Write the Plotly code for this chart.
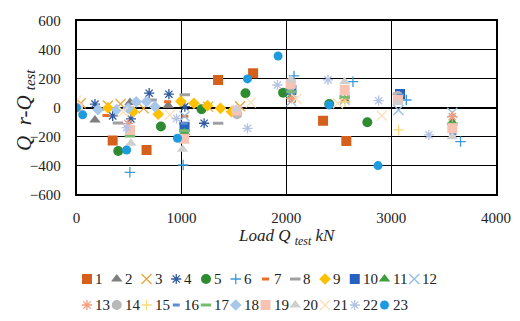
import plotly.graph_objects as go

# ---- data (Load Q_test kN, Q_r - Q_test) ----
s1_x = [345, 668, 1350, 1684, 2351, 2573]
s1_y = [-228, -293, 192, 238, -90, -231]
s2_x = [176, 510, 874]
s2_y = [-85, 35, 15]
s3_x = [40, 300, 420, 640, 1255, 1560]
s3_y = [30, 15, 25, -5, 7, 10]
s4_x = [176, 345, 519, 693, 881, 1033, 1217]
s4_y = [25, -57, -78, 100, 93, 7, -108]
s5_x = [398, 805, 1192, 1611, 1970, 2410, 2773]
s5_y = [-300, -131, -11, 100, 104, 25, -101]
s6_x = [509, 1017, 2074, 2636, 3145, 3662]
s6_y = [-448, -397, 220, 180, 53, -235]
s7_x = [281, 868, 1033, 2060]
s7_y = [-55, 40, -60, 45]
s8_x = [395, 716, 1033, 1350, 1027, 2043, 3065]
s8_y = [-106, 53, 90, -108, -108, 130, 95]
s9_x = [300, 541, 779, 995, 1120, 1249, 1373, 1478]
s9_y = [-2, -28, -45, 44, 30, 14, -5, -28]
s10_x = [1030, 2049, 3085]
s10_y = [-135, 122, 95]
s11_x = [1030, 2049, 2557, 3583]
s11_y = [-170, 75, 55, -100]
s12_x = [1030, 2049, 2557, 3070, 3583]
s12_y = [-60, 45, 55, -16, -35]
s13_x = [490, 2049, 2557, 3583]
s13_y = [-110, 65, 60, -62]
s14_x = [1532, 2043, 3065]
s14_y = [-45, 150, 80]
s15_x = [2560, 3071]
s15_y = [40, -154]
s16_x = [1027, 1525, 2049, 3090, 3590]
s16_y = [-108, -10, 100, 85, -180]
s17_x = [510, 1027, 2049, 2557, 3583]
s17_y = [-196, -160, 110, 72, -113]
s18_x = [205, 383, 493, 570, 668, 748]
s18_y = [-14, -14, -5, 40, 42, 7]
s19_x = [15, 510, 1027, 1525, 2043, 2557, 3065, 3583]
s19_y = [0, -154, -215, -20, 165, 123, 53, -143]
s20_x = [519, 1011, 1525, 2043, 2557, 3065, 3583]
s20_y = [-247, -288, -10, 192, 180, 35, -201]
s21_x = [0, 446, 890, 1662, 2095, 2493, 2912]
s21_y = [50, -28, -50, 35, 62, 30, -55]
s22_x = [478, 954, 1630, 1916, 2398, 2881, 3360]
s22_y = [-138, -75, -143, 157, 192, 48, -189]
s23_x = [0, 59, 478, 963, 1630, 1922, 2408, 2875]
s23_y = [0, -50, -293, -212, 199, 358, 19, -401]

names = [str(i) for i in range(1, 24)]
xs = [s1_x, s2_x, s3_x, s4_x, s5_x, s6_x, s7_x, s8_x, s9_x, s10_x, s11_x, s12_x,
      s13_x, s14_x, s15_x, s16_x, s17_x, s18_x, s19_x, s20_x, s21_x, s22_x, s23_x]
ys = [s1_y, s2_y, s3_y, s4_y, s5_y, s6_y, s7_y, s8_y, s9_y, s10_y, s11_y, s12_y,
      s13_y, s14_y, s15_y, s16_y, s17_y, s18_y, s19_y, s20_y, s21_y, s22_y, s23_y]

# ---- styles ----
colors = ["#D4601B", "#7F7F7F", "#E9A53A", "#2F5A9E", "#2E8B30", "#3A9AD9",
          "#ED6C2A", "#A0A0A0", "#FFC000", "#2762C0", "#3E9E3E", "#92BEE6",
          "#F59B7C", "#B8B8B8", "#FFD97A", "#5D8CD0", "#77BB6F", "#A7C7EB",
          "#F9C3B3", "#CFCFCF", "#FFDDB5", "#B3C3E6", "#1E9BDF"]
symbols = ["square", "triangle-up", "x-thin-open", "asterisk-open", "circle",
           "cross-thin-open", "line-ew-open", "line-ew-open", "diamond", "square",
           "triangle-up", "x-thin-open", "asterisk-open", "circle", "cross-thin-open",
           "line-ew-open", "line-ew-open", "diamond", "square", "triangle-up",
           "x-thin-open", "asterisk-open", "circle"]
sizes = [10, 10, 10, 8.5, 10, 7.5, 5, 7.5, 9, 10, 10, 10, 8.5, 10, 7.5, 5, 7.5, 9, 10,
         10, 10, 8.5, 9]
lws = [0, 0, 1.3, 1.3, 0, 1.3, 3, 3, 0, 0, 0, 1.3, 1.3, 0, 1.3, 3, 3, 0, 0, 0, 1.3, 1.3, 0]

# page body has an 8px margin; figure sized to fill the rest of the 520x321 window
OFF = 8
W, H = 520 - 2 * OFF, 321 - 2 * OFF
FONT = "Liberation Serif"

def px_x(p):  # window pixel -> paper fraction
    return (p - OFF) / W

def px_y(p):
    return 1 - (p - OFF) / H

fig = go.Figure()
for i in range(23):
    fig.add_trace(go.Scatter(
        x=xs[i], y=ys[i], mode="markers", name=names[i],
        marker=dict(symbol=symbols[i], size=sizes[i], color=colors[i],
                    line=dict(width=lws[i], color=colors[i])),
        showlegend=False, xaxis="x", yaxis="y"))

# ---- custom legend (on a hidden helper axis, in figure pixel units) ----
LEG_DOM = 0.3
for i in range(23):
    row_y = 279 if i < 12 else 305
    col = i if i < 12 else i - 12
    cx = 87 + 29.75 * col
    fig.add_trace(go.Scatter(
        x=[cx - OFF], y=[row_y - OFF], mode="markers", showlegend=False,
        hoverinfo="skip",
        marker=dict(symbol=symbols[i], size=sizes[i], color=colors[i],
                    line=dict(width=lws[i], color=colors[i])),
        xaxis="x2", yaxis="y2"))
    fig.add_annotation(x=cx - OFF + 6, y=row_y - OFF, xref="x2", yref="y2",
                       text=names[i], showarrow=False, xanchor="left",
                       yanchor="middle",
                       font=dict(family=FONT, size=15, color="#222"))

fig.update_layout(
    width=W, height=H,
    margin=dict(l=0, r=0, t=0, b=0, autoexpand=False),
    paper_bgcolor="white", plot_bgcolor="white",
    font=dict(family=FONT, size=15, color="#222"),
    xaxis=dict(domain=[px_x(76.5), px_x(496)], range=[0, 4000], dtick=1000,
               showgrid=True, gridcolor="black", gridwidth=1, automargin=False,
               showline=True, linecolor="black", linewidth=1.5, mirror=True,
               zeroline=False, ticks="outside", ticklen=9, tickcolor="rgba(0,0,0,0)",
               tickfont=dict(family=FONT, size=15, color="#222"), anchor="y"),
    yaxis=dict(domain=[px_y(194.3), px_y(21)], range=[-600, 600], dtick=200,
               showgrid=True, gridcolor="black", gridwidth=1, automargin=False,
               showline=True, linecolor="black", linewidth=1.5, mirror=True,
               zeroline=True, zerolinecolor="black", zerolinewidth=2.2,
               ticks="outside", ticklen=11, tickcolor="rgba(0,0,0,0)",
               tickfont=dict(family=FONT, size=15, color="#222"), anchor="x"),
    xaxis2=dict(domain=[0, 1], range=[0, W], visible=False, anchor="y2",
                automargin=False),
    yaxis2=dict(domain=[0, LEG_DOM], range=[H, H * (1 - LEG_DOM)], visible=False,
                anchor="x2", automargin=False),
)

# axis titles
fig.add_annotation(x=px_x(287), y=px_y(237), xref="paper", yref="paper",
                   text="<i>Load Q <sub>test</sub> kN</i>", showarrow=False,
                   xanchor="center", yanchor="middle",
                   font=dict(family=FONT, size=17, color="#222"))
fig.add_annotation(x=px_x(25), y=px_y(110), xref="paper", yref="paper",
                   text="<i>Q  r-Q <sub>test</sub></i>", showarrow=False, textangle=-90,
                   xanchor="center", yanchor="middle",
                   font=dict(family=FONT, size=21, color="#222"))

fig.write_html("out.html")
